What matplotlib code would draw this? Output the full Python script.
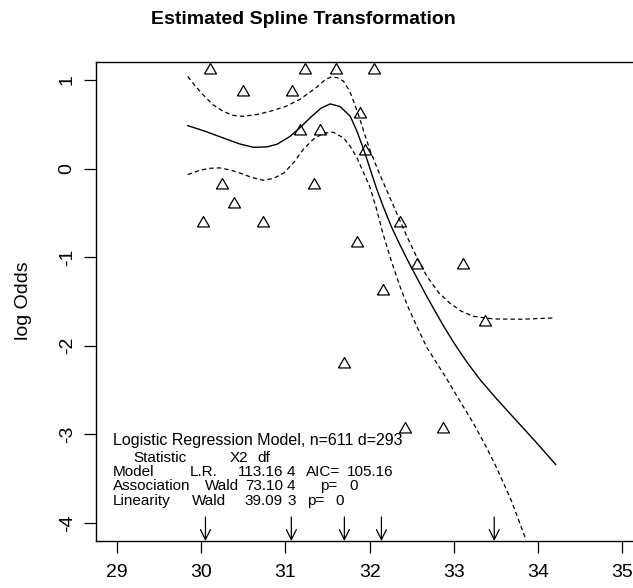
import numpy as np
import matplotlib
matplotlib.use('Agg')
import matplotlib.pyplot as plt

plt.rcParams['font.family'] = ['Liberation Sans', 'DejaVu Sans']
plt.rcParams['axes.unicode_minus'] = False

# observed log odds (triangles)
obs_x = [30.10, 31.23, 31.60, 32.05, 30.50, 31.08, 31.89, 31.17, 31.41, 31.95,
         30.25, 31.34, 30.39, 30.02, 30.73, 32.36, 31.85, 32.56, 33.11, 32.16,
         33.37, 31.70, 32.42, 32.87]
obs_y = [1.11, 1.11, 1.11, 1.11, 0.86, 0.86, 0.62, 0.42, 0.42, 0.20,
         -0.19, -0.19, -0.40, -0.61, -0.61, -0.61, -0.84, -1.09, -1.09, -1.38,
         -1.73, -2.20, -2.94, -2.94]

# fitted spline
fit_x = [29.84, 30.05, 30.26, 30.45, 30.62, 30.78, 30.90, 31.05, 31.17, 31.30,
         31.42, 31.53, 31.65, 31.77, 31.85, 31.93, 31.97, 32.08, 32.16, 32.26,
         32.36, 32.46, 32.56, 32.66, 32.76, 32.88, 33.01, 33.16, 33.31, 33.50,
         33.71, 33.96, 34.21]
fit_y = [0.485, 0.42, 0.346, 0.28, 0.24, 0.245, 0.275, 0.36, 0.459, 0.58,
         0.68, 0.73, 0.70, 0.59, 0.42, 0.214, 0.10, -0.22, -0.425, -0.66,
         -0.86, -1.05, -1.23, -1.41, -1.58, -1.78, -1.98, -2.19, -2.38, -2.59,
         -2.81, -3.07, -3.34]

# confidence band
upper_x = [29.84, 29.93, 30.02, 30.14, 30.26, 30.38, 30.50, 30.66, 30.82, 31.00,
           31.17, 31.36, 31.48, 31.55, 31.62, 31.69, 31.76, 31.81, 31.87, 31.93,
           32.00, 32.10, 32.20, 32.32, 32.44, 32.56, 32.68, 32.82, 32.95, 33.09,
           33.23, 33.47, 33.80, 34.18]
upper_y = [1.04, 0.93, 0.835, 0.72, 0.647, 0.60, 0.59, 0.61, 0.647, 0.70,
           0.78, 0.91, 1.01, 1.035, 1.025, 0.985, 0.88, 0.76, 0.60, 0.42,
           0.22, -0.02, -0.24, -0.50, -0.76, -1.00, -1.215, -1.40, -1.516, -1.61,
           -1.667, -1.697, -1.70, -1.686]
lower_x = [29.84, 29.98, 30.10, 30.22, 30.34, 30.46, 30.60, 30.74, 30.86, 30.98,
           31.10, 31.21, 31.33, 31.45, 31.57, 31.69, 31.77, 31.85, 31.92, 32.00,
           32.08, 32.16, 32.26, 32.36, 32.46, 32.56, 32.68, 32.80, 32.92, 33.07,
           33.23, 33.39, 33.51, 33.68, 33.85]
lower_y = [-0.068, -0.02, 0.003, 0.008, -0.015, -0.05, -0.10, -0.132, -0.11, -0.05,
           0.07, 0.214, 0.33, 0.40, 0.41, 0.346, 0.25, 0.12, -0.03, -0.20,
           -0.45, -0.74, -1.05, -1.33, -1.57, -1.78, -2.02, -2.20, -2.38, -2.62,
           -2.87, -3.15, -3.38, -3.74, -4.17]

knots = [30.05, 31.07, 31.70, 32.14, 33.48]
xticks = [29, 30, 31, 32, 33, 34, 35]
yticks = [-4, -3, -2, -1, 0, 1]

W, H = 633, 588
fig = plt.figure(figsize=(W / 100, H / 100), dpi=100)
ax = fig.add_axes([96 / W, 1 - 541 / H, (642 - 96) / W, (541 - 62) / H])
ax.set_xlim(28.75, 35.235)
ax.set_ylim(-4.203, 1.203)

ax.plot(fit_x, fit_y, color='black', lw=1.0)
ax.plot(upper_x, upper_y, color='black', lw=0.9, dashes=(3.5, 2.5))
ax.plot(lower_x, lower_y, color='black', lw=0.9, dashes=(3.5, 2.5))

tri = [(-1, -0.5774), (1, -0.5774), (0, 1.1547), (-1, -0.5774)]
ax.plot(obs_x, obs_y, ls='none', marker=tri, ms=10, mfc='none',
        mec='black', mew=0.9)

for k in knots:
    ax.annotate('', xy=(k, 0), xycoords=('data', 'axes fraction'),
                xytext=(k, 0.05), textcoords=('data', 'axes fraction'),
                arrowprops=dict(arrowstyle='->', lw=0.9, color='black',
                                shrinkA=0, shrinkB=0, mutation_scale=18))

ax.set_xticks(xticks)
ax.set_yticks(yticks)
ax.tick_params(direction='out', length=8.6, width=0.9, labelsize=14)
ax.tick_params(axis='x', pad=8)
ax.tick_params(axis='y', pad=6, labelrotation=90)
for t in ax.get_yticklabels():
    t.set_va('center')
for s in ax.spines.values():
    s.set_linewidth(1.0)

fig.text(23 / W, 1 - 301 / H, 'log Odds', rotation=90, ha='center',
         va='center', fontsize=14)
fig.text(303.5 / W, 1 - 19 / H, 'Estimated Spline Transformation',
         ha='center', va='center', fontsize=14, fontweight='bold')

# model summary block: (pixel x, alignment, text)
info_lines = [
    [(113, 'left', 'Logistic Regression Model, n=611 d=293')],
    [(133, 'left', 'Statistic'), (230, 'left', 'X2'), (257, 'left', 'df')],
    [(113, 'left', 'Model'), (190, 'left', 'L.R.'), (283, 'right', '113.16'),
     (287, 'left', '4'), (306, 'left', 'AIC='), (347, 'left', '105.16')],
    [(113, 'left', 'Association'), (205, 'left', 'Wald'), (283, 'right', '73.10'),
     (287, 'left', '4'), (320, 'left', 'p='), (349, 'left', '0')],
    [(113, 'left', 'Linearity'), (192, 'left', 'Wald'), (283, 'right', '39.09'),
     (287, 'left', '3'), (307, 'left', 'p='), (335, 'left', '0')],
]
line_y = [441, 457.5, 472.5, 486, 501]
for yy, tokens in zip(line_y, info_lines):
    for xx, al, s in tokens:
        fs = 11.5 if len(tokens) == 1 else 11
        fig.text(xx / W, 1 - yy / H, s, ha=al, va='center', fontsize=fs)

fig.savefig('out.png', dpi=100)
